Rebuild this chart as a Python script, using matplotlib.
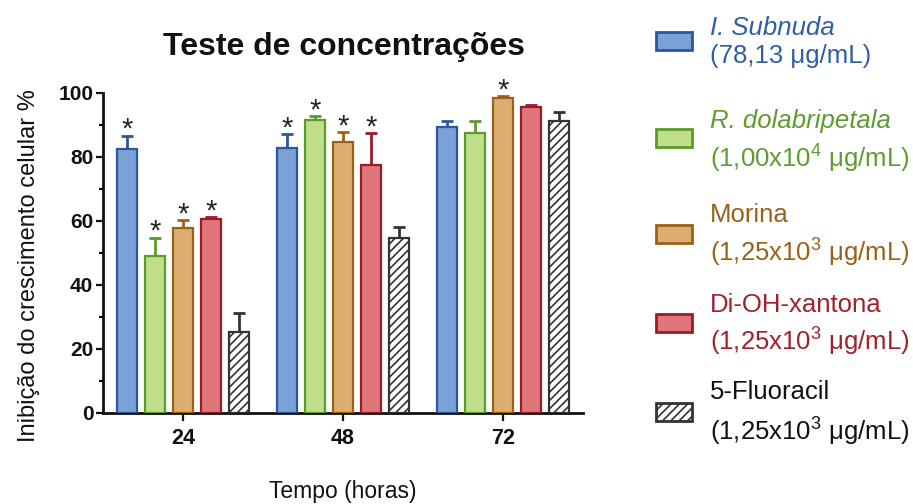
import matplotlib

matplotlib.use("Agg")
import matplotlib.pyplot as plt
import numpy as np
from matplotlib.patches import Rectangle

plt.rcParams["font.family"] = ["Liberation Sans", "DejaVu Sans"]
plt.rcParams["mathtext.fontset"] = "custom"
plt.rcParams["mathtext.rm"] = "Liberation Sans"
plt.rcParams["hatch.linewidth"] = 1.2

times = ["24", "48", "72"]
series = ["I. Subnuda", "R. dolabripetala", "Morina", "Di-OH-xantona", "5-Fluoracil"]
doses = ["(78,13 μg/mL)", "(1,00x10$^4$ μg/mL)", "(1,25x10$^3$ μg/mL)",
         "(1,25x10$^3$ μg/mL)", "(1,25x10$^3$ μg/mL)"]
means = [
    [82.5, 82.9, 89.5],
    [49.0, 91.6, 87.6],
    [57.9, 84.6, 98.5],
    [60.5, 77.4, 95.5],
    [25.2, 54.8, 91.1],
]
errors = [
    [4.1, 4.2, 1.7],
    [5.7, 1.2, 3.8],
    [2.4, 3.1, 0.5],
    [0.6, 10.1, 0.7],
    [6.1, 3.3, 3.1],
]
stars = [
    [1, 1, 0],
    [1, 1, 0],
    [1, 1, 1],
    [1, 1, 0],
    [0, 0, 0],
]

fills = ["#7ba1d6", "#c0df8b", "#ddae70", "#e0757b", "white"]
edges = ["#2b56a0", "#5b9a2c", "#9a6118", "#9c1b29", "#333333"]
text_colors = ["#2f5ea6", "#5f9c30", "#9a6118", "#a21f2c", "#111111"]
hatches = [None, None, None, None, "////"]
italic = [True, True, False, False, False]

W, H = 913, 504
fig = plt.figure(figsize=(W / 100, H / 100), dpi=100)
ax = fig.add_axes([103 / W, 91 / H, 480 / W, 320 / H])

x = np.arange(len(times))
pitch = 0.175
width = 0.128
for i in range(len(series)):
    xs = x + (i - 2) * pitch
    ax.bar(xs, means[i], width=width, color=fills[i], edgecolor=edges[i],
           linewidth=1.6, hatch=hatches[i], zorder=3)
    ax.errorbar(xs, means[i], yerr=[np.zeros(len(times)), errors[i]], fmt="none",
                ecolor=edges[i], elinewidth=2, capsize=4, capthick=2, zorder=2)
    for j in range(len(times)):
        if stars[i][j]:
            ax.annotate("*", (xs[j], means[i][j] + errors[i][j]), xytext=(0, -1.5),
                        textcoords="offset points", ha="center", va="baseline",
                        fontsize=21, color="#222222", annotation_clip=False)

ax.set_xlim(-0.5, 2.5)
ax.set_ylim(0, 100)
ax.set_xticks(x)
ax.set_xticklabels(times, fontsize=15.5, fontweight="bold")
ax.set_yticks(np.arange(0, 101, 20))
ax.set_yticks(np.arange(10, 100, 20), minor=True)
ax.set_yticklabels([str(v) for v in range(0, 101, 20)], fontsize=15, fontweight="bold")
ax.tick_params(axis="y", which="major", width=1.6, length=5, pad=2, colors="#111111")
ax.tick_params(axis="y", which="minor", width=1.6, length=3, colors="#111111")
ax.tick_params(axis="x", width=1.6, length=5.5, pad=5, colors="#111111")
for side in ("top", "right"):
    ax.spines[side].set_visible(False)
for side in ("left", "bottom"):
    ax.spines[side].set_linewidth(2)
    ax.spines[side].set_color("#111111")

fig.text(344 / W, 1 - 55 / H, "Teste de concentrações", fontsize=23,
         fontweight="bold", color="#111111", ha="center", va="baseline")
ax.set_ylabel("Inibição do crescimento celular %", fontsize=17, color="#111111")
ax.yaxis.set_label_coords(-0.132, 0.46)
ax.set_xlabel("Tempo (horas)", fontsize=16.5, color="#111111")
ax.xaxis.set_label_coords(0.5, -0.21)

# legend drawn by hand: two-line labels in series colours
patch_y = [40.5, 137.5, 233.5, 322.5, 411.5]
line1_y = [35, 128, 222, 312, 399]
line2_y = [63, 167, 261, 350, 440]
for i in range(len(series)):
    fig.patches.append(Rectangle((656 / W, 1 - (patch_y[i] + 9) / H), 36 / W, 18 / H,
                                 transform=fig.transFigure, facecolor=fills[i],
                                 edgecolor=edges[i], linewidth=2, hatch=hatches[i]))
    fig.text(710 / W, 1 - line1_y[i] / H, series[i], fontsize=18.5, color=text_colors[i],
             style="italic" if italic[i] else "normal", va="baseline", ha="left")
    fig.text(710 / W, 1 - line2_y[i] / H, doses[i], fontsize=18.5, color=text_colors[i],
             va="baseline", ha="left")

fig.savefig("out.png", dpi=100)
